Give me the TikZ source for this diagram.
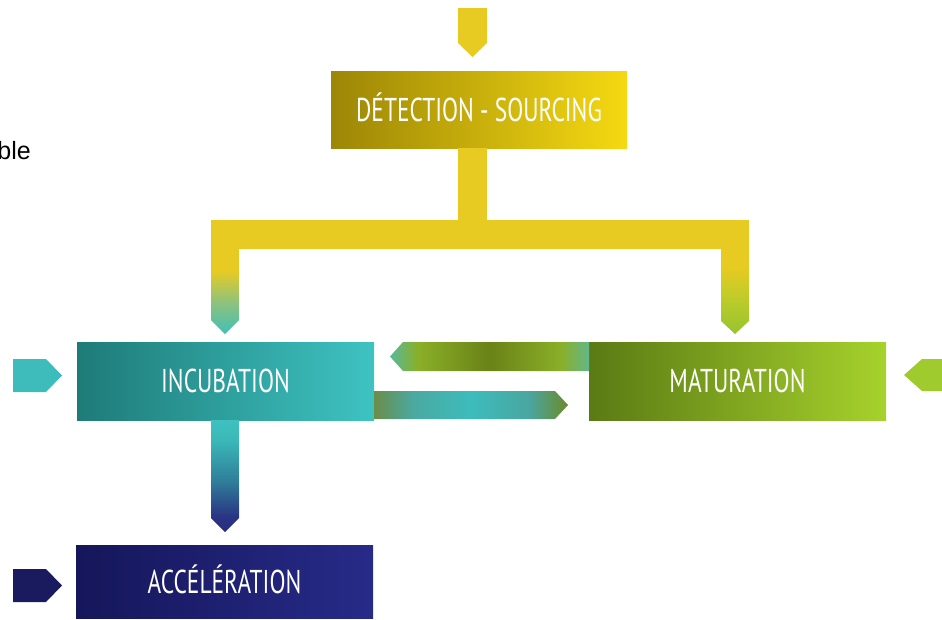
\documentclass[tikz,border=0pt]{standalone}
\usepackage{fontspec}
\newfontfamily\boxfont[FakeStretch=0.71]{PT Sans}
\newfontfamily\sidefont{Liberation Sans}
\definecolor{ylw}{HTML}{E8CB22}
\definecolor{tealin}{HTML}{3EBCBB}
\definecolor{navyin}{HTML}{1A1A5E}
\definecolor{greenin}{HTML}{A0CB2E}
\definecolor{detL}{HTML}{9C8606}
\definecolor{detR}{HTML}{F5D912}
\definecolor{incL}{HTML}{1E7B78}
\definecolor{incR}{HTML}{3EC3C2}
\definecolor{matL}{HTML}{5A7A14}
\definecolor{matR}{HTML}{A6D22C}
\definecolor{accL}{HTML}{15165A}
\definecolor{accR}{HTML}{272B88}
\definecolor{uA}{HTML}{58B99A}
\definecolor{uB}{HTML}{8AAF28}
\definecolor{uC}{HTML}{6A8217}
\definecolor{uD}{HTML}{62B78A}
\definecolor{lA}{HTML}{6B8D4A}
\definecolor{lB}{HTML}{4AA9A0}
\definecolor{lC}{HTML}{3DBCBC}
\definecolor{lD}{HTML}{4AA6A0}
\definecolor{lE}{HTML}{6B8A2A}
\definecolor{tA}{HTML}{40BFB6}
\definecolor{tB}{HTML}{8FC27C}
\definecolor{gA}{HTML}{96C42F}
\definecolor{gB}{HTML}{BCCB2A}
\definecolor{dA}{HTML}{2A2C80}
\definecolor{dB}{HTML}{2A3583}
\definecolor{dC}{HTML}{2F7F9A}
\definecolor{dD}{HTML}{3AB8B8}
\definecolor{dE}{HTML}{3FC1BF}
\pgfdeclarehorizontalshading{upsh}{100bp}{color(0bp)=(uA); color(25bp)=(uA); color(32bp)=(uB); color(50bp)=(uC); color(68bp)=(uB); color(75bp)=(uD); color(100bp)=(uD)}
\pgfdeclarehorizontalshading{losh}{100bp}{color(0bp)=(lA); color(25bp)=(lA); color(35bp)=(lB); color(50bp)=(lC); color(65bp)=(lD); color(75bp)=(lE); color(100bp)=(lE)}
\pgfdeclareverticalshading{ltsh}{100bp}{color(0bp)=(tA); color(25bp)=(tA); color(39bp)=(tB); color(53bp)=(ylw); color(100bp)=(ylw)}
\pgfdeclareverticalshading{rtsh}{100bp}{color(0bp)=(gA); color(25bp)=(gA); color(40bp)=(gB); color(55bp)=(ylw); color(100bp)=(ylw)}
\pgfdeclareverticalshading{dnsh}{100bp}{color(0bp)=(dA); color(25bp)=(dA); color(32bp)=(dB); color(48bp)=(dC); color(66bp)=(dD); color(75bp)=(dE); color(100bp)=(dE)}
\begin{document}
\begin{tikzpicture}[x=1pt,y=-1pt,
  box/.style={minimum width=297pt,minimum height=78pt,inner sep=0pt,
    text=white,font=\boxfont\fontsize{33}{33}\selectfont,text height=23pt,text depth=0pt}]
\useasboundingbox (0,0) rectangle (942,619);
% "ble" text
\node[anchor=base east,inner sep=0pt,font=\sidefont\fontsize{25}{25}\selectfont] (ble) at (31,159) {ble};
% boxes
\node[box,minimum width=296pt,minimum height=77pt,left color=detL,right color=detR] (det) at (479,109.5) {DÉTECTION - SOURCING};
\node[box,left color=incL,right color=incR] (inc) at (225.5,381) {INCUBATION};
\node[box,left color=matL,right color=matR] (mat) at (737.5,381) {MATURATION};
\node[box,minimum height=73pt,left color=accL,right color=accR] (acc) at (224.5,581.5) {ACCÉLÉRATION};
% top incoming arrow
\fill[ylw] (458,8) -- (487,8) -- (487,43) -- (472.5,57) -- (458,43) -- cycle;
% stem and bar
\fill[ylw] (458,148) rectangle (487,222);
\fill[ylw] (211,220) rectangle (749,249);
% down arrows to incubation and maturation
\shade[shading=ltsh] (211,220) -- (239,220) -- (239,320) -- (225,334) -- (211,320) -- cycle;
\shade[shading=rtsh] (721,220) -- (749,220) -- (749,321) -- (735,334) -- (721,321) -- cycle;
% maturation -> incubation
\shade[shading=upsh] (589,342) -- (403,342) -- (390,356.5) -- (403,371) -- (589,371) -- cycle;
% incubation -> maturation
\shade[shading=losh] (374,391) -- (555,391) -- (568,405) -- (555,419) -- (374,419) -- cycle;
% incubation -> acceleration
\shade[shading=dnsh] (211,420) -- (239,420) -- (239,518) -- (225,532) -- (211,518) -- cycle;
% side incoming arrows
\fill[tealin] (13,359) -- (46,359) -- (62,375.5) -- (46,392) -- (13,392) -- cycle;
\fill[navyin] (13,569) -- (46,569) -- (62,585.5) -- (46,602) -- (13,602) -- cycle;
\fill[greenin] (942,359) -- (922,359) -- (904,375) -- (922,391) -- (942,391) -- cycle;
\end{tikzpicture}
\end{document}
